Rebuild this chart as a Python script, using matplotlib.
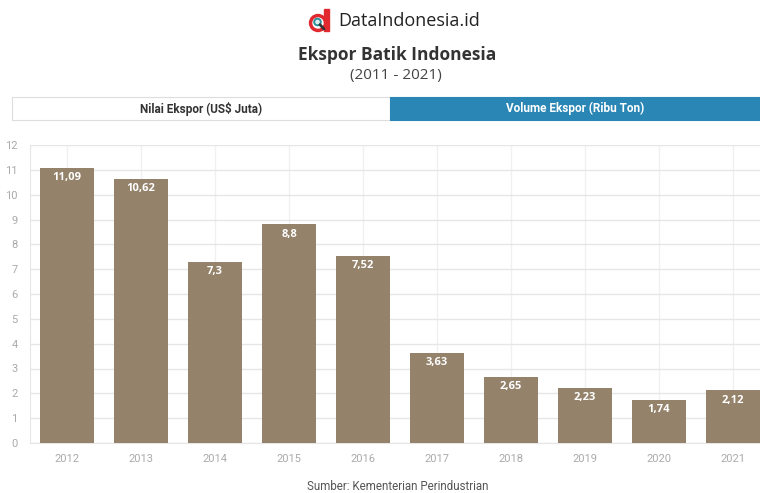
import matplotlib
matplotlib.use("Agg")
import matplotlib.pyplot as plt
from matplotlib.patches import Rectangle, Circle
from matplotlib import font_manager

years = ["2012", "2013", "2014", "2015", "2016", "2017", "2018", "2019", "2020", "2021"]
values = [11.09, 10.62, 7.3, 8.8, 7.52, 3.63, 2.65, 2.23, 1.74, 2.12]
labels = ["11,09", "10,62", "7,3", "8,8", "7,52", "3,63", "2,65", "2,23", "1,74", "2,12"]
yticks = list(range(0, 13))

names = {f.name for f in font_manager.fontManager.ttflist}
NARROW = "Liberation Sans Narrow" if "Liberation Sans Narrow" in names else "Roboto"

W, H = 760, 493
fig = plt.figure(figsize=(W / 100, H / 100), dpi=100)
fig.patch.set_facecolor("white")

def fx(x):
    return x / W

def fy(y):
    return 1 - y / H

# Axes
left, right, top, bottom = 30, 770, 145, 443
ax = fig.add_axes([fx(left), fy(bottom), fx(right - left), (bottom - top) / H])
ax.set_facecolor("white")
x = list(range(len(years)))
ax.bar(x, values, width=0.74, color="#94826a", zorder=3)
ax.set_xlim(-0.5, len(years) - 0.5)
ax.set_ylim(0, 12)
ax.set_yticks(yticks)
ax.set_yticklabels([str(t) for t in yticks])
ax.set_xticks(x)
ax.set_xticklabels(years)
ax.grid(axis="y", color="#e6e6e6", linewidth=1, zorder=0)
ax.grid(axis="x", color="#f0f0f0", linewidth=1, zorder=0)
for s in ["top", "right"]:
    ax.spines[s].set_visible(False)
ax.spines["left"].set_color("#e6e6e6")
ax.spines["bottom"].set_color("#e6e6e6")
ax.tick_params(axis="both", length=0, colors="#aaaaaa", labelsize=8)
ax.tick_params(axis="x", pad=8)
ax.tick_params(axis="y", pad=9)
for t in ax.get_yticklabels() + ax.get_xticklabels():
    t.set_fontfamily(NARROW)
for xi, v, lab in zip(x, values, labels):
    ax.annotate(lab, (xi, v), xytext=(0, -7), textcoords="offset points",
                ha="center", va="center", color="white", fontsize=8,
                fontweight="bold", fontfamily="Open Sans", zorder=4)

# Logo
ax_logo = fig.add_axes([fx(307), fy(33), fx(26), 26 / H])
ax_logo.set_xlim(0, 26)
ax_logo.set_ylim(0, 26)
ax_logo.set_aspect("equal")
ax_logo.axis("off")
ax_logo.add_patch(Rectangle((17, 2), 5, 22, color="#e02a2f"))
ax_logo.add_patch(Circle((11, 10), 8.5, color="#e02a2f"))
ax_logo.add_patch(Circle((11, 10), 5.0, color="white"))
ax_logo.add_patch(Circle((10.5, 11), 3.3, facecolor="#dff0f2", edgecolor="#2a8f9a", linewidth=1.4))
ax_logo.plot([13, 17], [8.3, 4.0], color="#333333", linewidth=2.0, solid_capstyle="round")

fig.text(fx(338), fy(21), "DataIndonesia.id", fontsize=13, fontfamily="Open Sans",
         color="#222222", ha="left", va="center")
fig.text(fx(397), fy(55), "Ekspor Batik Indonesia", fontsize=12.5, fontweight="bold",
         fontfamily="Open Sans", color="#333333", ha="center", va="center")
fig.text(fx(396), fy(75), "(2011 - 2021)", fontsize=11, fontfamily="Open Sans",
         color="#444444", ha="center", va="center")

# Tabs
fig.patches.append(Rectangle((fx(12), fy(120)), fx(378), 23 / H, transform=fig.transFigure,
                             facecolor="white", edgecolor="#dddddd", linewidth=0.8))
fig.patches.append(Rectangle((fx(390), fy(120)), fx(372), 23 / H, transform=fig.transFigure,
                             facecolor="#2a86b5", edgecolor="#2a86b5", linewidth=0.8))
fig.text(fx(201), fy(108.5), "Nilai Ekspor (US$ Juta)", fontsize=8.5, fontweight="bold",
         fontfamily=NARROW, color="#333333", ha="center", va="center")
fig.text(fx(575), fy(108.5), "Volume Ekspor (Ribu Ton)", fontsize=8.5, fontweight="bold",
         fontfamily=NARROW, color="white", ha="center", va="center")

fig.text(fx(398), fy(486), "Sumber: Kementerian Perindustrian", fontsize=8.3,
         fontfamily=NARROW, color="#555555", ha="center", va="center")

fig.savefig("out.png", dpi=100, facecolor="white")
